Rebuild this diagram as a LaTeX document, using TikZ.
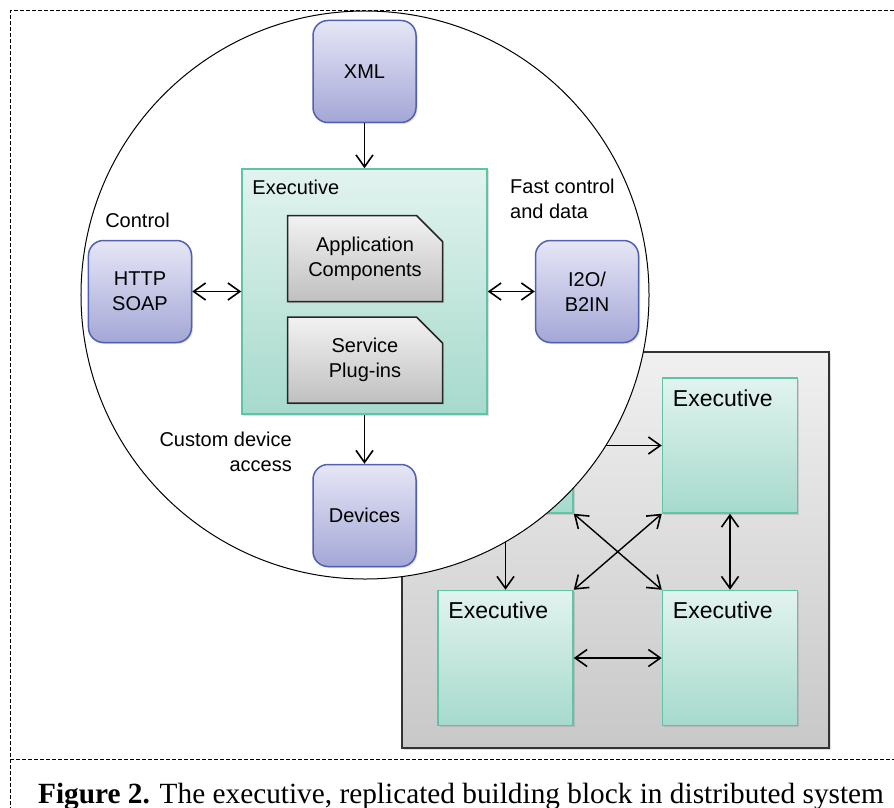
\documentclass[tikz,border=0pt]{standalone}
\usepackage{fontspec}
\setmainfont{Liberation Serif}
\newfontfamily\helv{Liberation Sans}
\usetikzlibrary{positioning,arrows.meta,shapes.misc,shadows}
\definecolor{bluetop}{RGB}{230,230,246}
\definecolor{bluebot}{RGB}{164,167,214}
\definecolor{blueline}{RGB}{82,96,178}
\definecolor{exectop}{RGB}{226,243,239}
\definecolor{execbot}{RGB}{166,218,204}
\definecolor{execline}{RGB}{94,196,168}
\definecolor{notetop}{RGB}{242,242,242}
\definecolor{notebot}{RGB}{192,192,192}
\definecolor{paneltop}{RGB}{240,240,240}
\definecolor{panelbot}{RGB}{200,200,200}

\begin{document}
\begin{tikzpicture}[x=1bp,y=-1bp,
        font=\helv\fontsize{20bp}{25bp}\selectfont,
        shade/.style={drop shadow={shadow xshift=1.5bp,shadow yshift=-1.5bp,opacity=0.25}},
        bluebox/.style={shade,draw=blueline,line width=1.5bp,rounded corners=15bp,
                        top color=bluetop,bottom color=bluebot,align=center,
                        minimum width=103bp,minimum height=102bp,inner sep=0pt},
        execbox/.style={shade,draw=execline,line width=1.5bp,top color=exectop,
                        bottom color=execbot,inner sep=0pt,minimum size=#1},
        notebox/.style={shade,chamfered rectangle,chamfered rectangle corners=north east,
                        chamfered rectangle xsep=13bp,chamfered rectangle ysep=13bp,
                        draw=black!85,line width=1.5bp,top color=notetop,bottom color=notebot,
                        align=center,minimum width=155bp,minimum height=86bp,inner sep=0pt},
        lbl/.style={inner sep=0pt,align=left},
        tip/.tip={Straight Barb[length=12bp,width=17bp,line width=1.6bp]},
        arr/.style={-tip,line width=1.4bp},
        darr/.style={tip-tip,line width=1.4bp},
        frame/.style={line width=1bp,dash pattern=on 4bp off 2bp}]
    \useasboundingbox (0,0) rectangle (894,808);
    % frame round the figure and its caption
    \draw[frame] (894,11) -- (10,11) -- (10,808);
    \draw[frame] (10,759) -- (894,759);

    % the replicated executives
    \node[shade,draw=black!80,line width=1.5bp,top color=paneltop,bottom color=panelbot,
          minimum width=427bp,minimum height=396bp,inner sep=0pt] (panel) at (615.5,550) {};
    \node[execbox=135bp] (exA) at (505.5,445.5) {};
    \node[execbox=135bp,right=88bp of exA] (exB) {};
    \node[execbox=135bp,below=76bp of exA] (exC) {};
    \node[execbox=135bp,below=76bp of exB] (exD) {};
    \foreach \e in {exB,exC,exD}
        \node[lbl,anchor=base west,font=\helv\fontsize{23bp}{28bp}\selectfont]
            (\e txt) at ([shift={(11,29)}]\e.north west) {Executive};
    \draw[arr] (exA.east) -- (exB.west);
    \draw[arr] (exA.south) -- (exC.north);
    \draw[darr] (exA.south east) -- (exD.north west);
    \draw[darr] (exB.south west) -- (exC.north east);
    \draw[darr] (exB.south) -- (exD.north);
    \draw[darr] (exC.east) -- (exD.west);

    % magnified executive
    \node[circle,draw,fill=white,line width=1bp,minimum size=568bp,inner sep=0pt] (lens) at (365,295) {};
    \node[execbox=245bp] (exec) at (364.5,291.5) {};
    \node[lbl,anchor=base west] (exectxt) at ([shift={(11,26)}]exec.north west) {Executive};
    \node[notebox] (app) at (365,258.5) {Application\\Components};
    \node[notebox,below=14bp of app] (plugins) {Service\\Plug-ins};
    \node[bluebox,above=45bp of exec] (xml) {XML};
    \node[bluebox,below=49bp of exec] (dev) {Devices};
    \node[bluebox,left=49bp of exec] (http) {HTTP\\SOAP};
    \node[bluebox,right=47bp of exec] (i2o) {I2O/\\B2IN};
    \node[lbl,anchor=base] (ctrl) at (137.5,227) {Control};
    \node[lbl,anchor=north west] (fast) at (510,179) {Fast control\\and data};
    \node[lbl,anchor=north east,align=right] (custom) at (292,432) {Custom device\\access};
    \draw[arr] (xml) -- (exec);
    \draw[arr] (exec) -- (dev);
    \draw[darr] (http) -- (exec);
    \draw[darr] (exec) -- (i2o);

    \node[inner sep=0pt,anchor=base west,font=\fontsize{29.3bp}{34bp}\selectfont] (caption) at (38,803)
        {\textbf{Figure 2.} The executive, replicated building block in distributed system};
\end{tikzpicture}
\end{document}
